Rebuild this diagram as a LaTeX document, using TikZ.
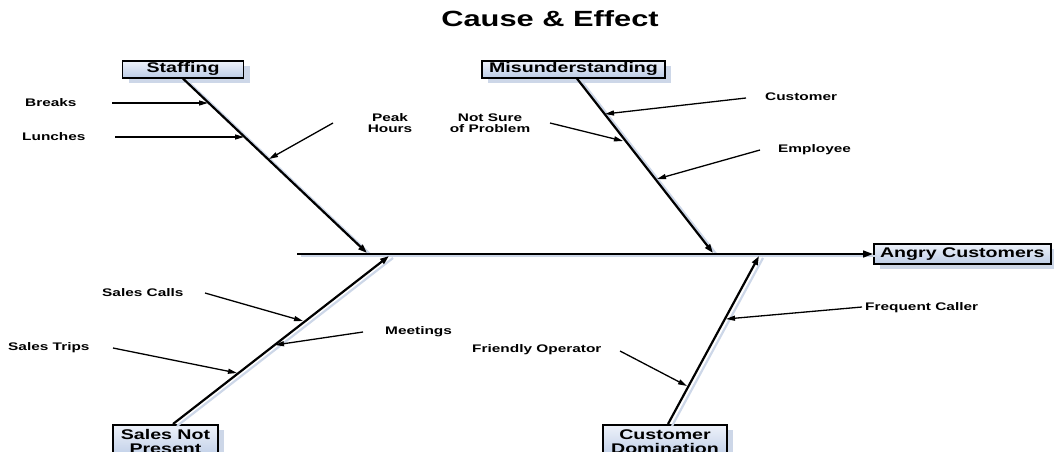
\documentclass[tikz,border=0pt]{standalone}
\usepackage{fontspec}
\setmainfont{Liberation Sans}[FakeStretch=1.4]
\usetikzlibrary{arrows.meta,calc,shadows}
\definecolor{boxtop}{RGB}{238,242,250}
\definecolor{boxbot}{RGB}{188,204,230}
\definecolor{boxshade}{RGB}{205,215,232}
\begin{document}
\begin{tikzpicture}[x=1pt,y=-1pt,
  cause/.style={draw=black,line width=1.6pt,top color=boxtop,bottom color=boxbot,
    drop shadow={shadow xshift=6pt,shadow yshift=-5pt,fill=boxshade,opacity=1},
    font=\fontsize{14}{14}\selectfont\bfseries,inner sep=0pt,minimum height=17,align=center},
  cue/.style={font=\fontsize{11}{11}\selectfont\bfseries,inner sep=0pt,anchor=west},
  bone/.style={line width=2.2pt,-{Triangle[length=9pt,width=6pt]}},
  boneshade/.style={line width=2.2pt,color=boxshade,transform canvas={shift={(4pt,-2pt)}}},
  twig/.style={line width=1.3pt,-{Triangle[length=9pt,width=5pt]}}]
  \useasboundingbox (0,0) rectangle (1054,452);

  \node[font=\fontsize{22}{22}\selectfont\bfseries] (title) at (550,19) {Cause \& Effect};

  % boxes
  \node[cause,anchor=north,minimum width=121] (staff) at (183,60) {Staffing};
  \node[cause,anchor=north,minimum width=183] (mis) at (573.5,60) {Misunderstanding};
  \node[cause,anchor=north,minimum width=105,minimum height=34] (sales) at (165.5,424) {Sales Not\\Present};
  \node[cause,anchor=north,minimum width=124,minimum height=34] (cust) at (665,424) {Customer\\Domination};
  \node[cause,anchor=west,minimum width=177,minimum height=20] (angry) at (873,254) {Angry Customers};

  % bone ends
  \coordinate (tail) at (297,254);
  \coordinate (staffE) at (367,253);
  \coordinate (misS) at ($(mis.south)+(3.5,0)$);
  \coordinate (misE) at (713,253);
  \coordinate (salesS) at ($(sales.north)+(7.5,0)$);
  \coordinate (salesE) at (389,256);
  \coordinate (custS) at ($(cust.north)+(3,0)$);
  \coordinate (custE) at (759,256);

  \draw[boneshade] (tail) -- (angry.west);
  \draw[boneshade] (staff.south) -- (staffE);
  \draw[boneshade] (misS) -- (misE);
  \draw[boneshade] (salesS) -- (salesE);
  \draw[boneshade] (custS) -- (custE);

  \draw[line width=1.5pt,-{Triangle[length=10pt,width=7pt]}] (tail) -- (angry.west);% spine
  \draw[bone] (staff.south) -- (staffE);% staffing
  \draw[bone] (misS) -- (misE);% misunderstanding
  \draw[bone] (salesS) -- (salesE);% sales not present
  \draw[bone] (custS) -- (custE);% customer domination

  % causes
  \node[cue] (breaks) at (25,103) {Breaks};
  \node[cue] (lunches) at (22,137) {Lunches};
  \node[cue,anchor=center,align=center] (peak) at (390,123) {Peak\\Hours};
  \node[cue] (customer) at (765,97) {Customer};
  \node[cue,anchor=center,align=center] (notsure) at (490,123) {Not Sure\\of Problem};
  \node[cue] (employee) at (778,150) {Employee};
  \node[cue] (calls) at (102,293) {Sales Calls};
  \node[cue] (meetings) at (385,332) {Meetings};
  \node[cue] (trips) at (8,348) {Sales Trips};
  \node[cue] (frequent) at (865,308) {Frequent Caller};
  \node[cue] (friendly) at (472,350) {Friendly Operator};

  \coordinate (breaksT) at (112,103);   \coordinate (breaksH) at (208,103);
  \coordinate (lunchesT) at (115,137);  \coordinate (lunchesH) at (244,137);
  \coordinate (peakT) at (333,123);     \coordinate (peakH) at (269,159);
  \coordinate (customerT) at (746,98);  \coordinate (customerH) at (605,114);
  \coordinate (notsureT) at (550,123);  \coordinate (notsureH) at (623,141);
  \coordinate (employeeT) at (760,150); \coordinate (employeeH) at (657,179);
  \coordinate (callsT) at (205,293);    \coordinate (callsH) at (303,321);
  \coordinate (meetingsT) at (363,332); \coordinate (meetingsH) at (275,345);
  \coordinate (tripsT) at (113,348);    \coordinate (tripsH) at (237,373);
  \coordinate (frequentT) at (862,307); \coordinate (frequentH) at (726,319);
  \coordinate (friendlyT) at (620,351); \coordinate (friendlyH) at (687,386);

  \draw[twig] (breaksT) -- (breaksH);% breaks to staffing
  \draw[twig] (lunchesT) -- (lunchesH);% lunches to staffing
  \draw[twig] (peakT) -- (peakH);% peak hours to staffing
  \draw[twig] (customerT) -- (customerH);% customer to misunderstanding
  \draw[twig] (notsureT) -- (notsureH);% not sure to misunderstanding
  \draw[twig] (employeeT) -- (employeeH);% employee to misunderstanding
  \draw[twig] (callsT) -- (callsH);% sales calls to sales
  \draw[twig] (meetingsT) -- (meetingsH);% meetings to sales
  \draw[twig] (tripsT) -- (tripsH);% sales trips to sales
  \draw[twig] (frequentT) -- (frequentH);% frequent caller to customer domination
  \draw[twig] (friendlyT) -- (friendlyH);% friendly operator to customer domination
\end{tikzpicture}
\end{document}
